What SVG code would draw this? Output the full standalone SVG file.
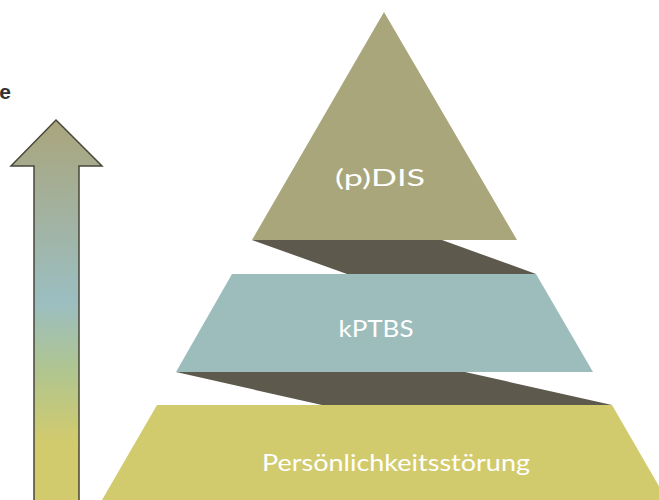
<svg xmlns="http://www.w3.org/2000/svg" width="659" height="500" viewBox="0 0 659 500">
<defs>
<linearGradient id="ag" x1="0" y1="120" x2="0" y2="500" gradientUnits="userSpaceOnUse">
<stop offset="0" stop-color="#aaa57c"/>
<stop offset="0.48" stop-color="#9bbec1"/>
<stop offset="0.66" stop-color="#b0c58f"/>
<stop offset="0.85" stop-color="#d2cb6d"/>
<stop offset="1" stop-color="#d2cb6d"/>
</linearGradient>
<style>
.lbl{font-family:"Lato","Noto Sans",sans-serif;font-size:24px;fill:#ffffff;text-anchor:middle}
.shadow{fill:#5e594d}
</style>
</defs>
<rect width="659" height="500" fill="#ffffff"/>
<text x="11" y="99" text-anchor="end" font-family="Liberation Sans, Arial, sans-serif" font-weight="bold" font-size="21" fill="#333333">e</text>
<g id="arrow">
<path d="M56,120 L102,166 L79,166 L79,502 L34,502 L34,166 L11,166 Z" fill="url(#ag)" stroke="#48473a" stroke-width="1.5" stroke-linejoin="miter"/>
</g>
<g id="shadows">
<polygon class="shadow" points="252,240 442,240 536,274 347,274"/>
<polygon class="shadow" points="176,372 465,372 612,405 322,405"/>
</g>
<g id="node-pdis">
<polygon points="384,12 517,240 252,240" fill="#aaa67c"/>
<text class="lbl" x="380" y="186" textLength="90" lengthAdjust="spacingAndGlyphs">(p)DIS</text>
</g>
<g id="node-kptbs">
<polygon points="232,274 536,274 593,372 176,372" fill="#9cbdbc"/>
<text class="lbl" x="376" y="337" textLength="75" lengthAdjust="spacingAndGlyphs">kPTBS</text>
</g>
<g id="node-ps">
<polygon points="157,405 612,405 667,500 102,500" fill="#d2cb6d"/>
<text class="lbl" x="396" y="471" textLength="268" lengthAdjust="spacingAndGlyphs">Persönlichkeitsstörung</text>
</g>
</svg>
